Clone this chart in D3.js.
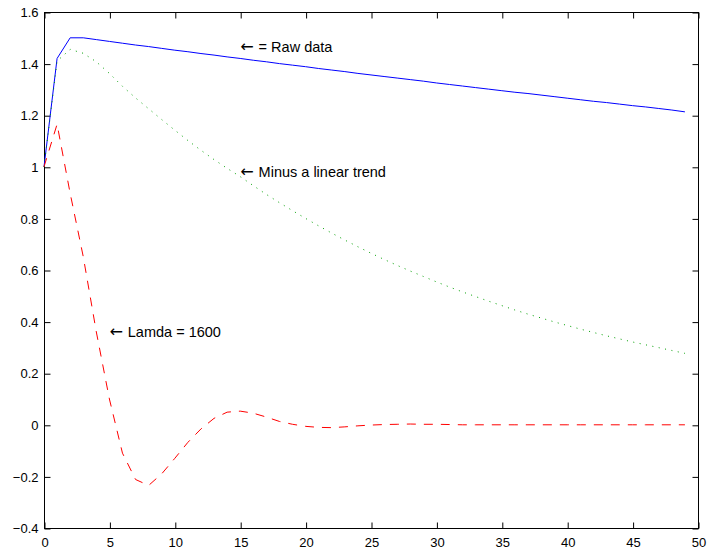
<!DOCTYPE html>
<html>
<head>
<meta charset="utf-8">
<script src="https://cdn.jsdelivr.net/npm/d3@7"></script>
<style>
  html, body { margin: 0; padding: 0; background: #fff; }
  svg { display: block; }
  .axis text { font-family: "Liberation Sans", Arial, Helvetica, sans-serif; font-size: 13px; fill: #000; }
  .axis path { display: none; }
  .axis line { stroke: #000; stroke-width: 1; }
  .note { font-family: "Liberation Sans", Arial, Helvetica, sans-serif; font-size: 14.5px; fill: #000; }
  .note .arrow { font-family: "DejaVu Sans", sans-serif; font-size: 16px; }
</style>
</head>
<body>
<script>
// Periods 0..49 of the impulse responses
const periods = d3.range(0, 50);

// Raw series
const rawData = [
  1.000, 1.420, 1.500, 1.500, 1.493, 1.486, 1.479, 1.472, 1.466, 1.459,
  1.452, 1.446, 1.439, 1.433, 1.426, 1.420, 1.413, 1.407, 1.400, 1.394,
  1.388, 1.381, 1.375, 1.369, 1.362, 1.356, 1.350, 1.344, 1.338, 1.332,
  1.325, 1.319, 1.313, 1.307, 1.301, 1.295, 1.289, 1.284, 1.278, 1.272,
  1.266, 1.260, 1.254, 1.249, 1.243, 1.237, 1.232, 1.226, 1.220, 1.213
];

// Series after removing a linear trend
const detrended = [
  1.000, 1.410, 1.455, 1.440, 1.407, 1.362, 1.312, 1.267, 1.225, 1.183,
  1.142, 1.102, 1.064, 1.028, 0.994, 0.962, 0.927, 0.893, 0.861, 0.830,
  0.800, 0.771, 0.743, 0.716, 0.690, 0.665, 0.641, 0.618, 0.596, 0.575,
  0.554, 0.534, 0.515, 0.497, 0.479, 0.462, 0.445, 0.429, 0.414, 0.399,
  0.385, 0.371, 0.358, 0.345, 0.333, 0.321, 0.310, 0.299, 0.288, 0.277
];

// HP-filtered series, lambda = 1600
const hpFiltered = [
  1.000, 1.165, 0.897, 0.652, 0.360, 0.100, -0.110, -0.212, -0.235, -0.190,
  -0.130, -0.068, -0.016, 0.025, 0.049, 0.053, 0.045, 0.030, 0.013, 0.002,
  -0.006, -0.010, -0.011, -0.008, -0.004, -0.001, 0.001, 0.002, 0.003, 0.002,
  0.002, 0.001, 0.000, 0.000, 0.000, 0.000, 0.000, 0.000, 0.000, 0.000,
  0.000, 0.000, 0.000, 0.000, 0.000, 0.000, 0.000, 0.000, 0.000, 0.000
];

// Axis ticks
const xTicks = [0, 5, 10, 15, 20, 25, 30, 35, 40, 45, 50];
const yTicks = [-0.4, -0.2, 0, 0.2, 0.4, 0.6, 0.8, 1, 1.2, 1.4, 1.6];
const yTickLabels = ["\u22120.4", "\u22120.2", "0", "0.2", "0.4", "0.6", "0.8", "1", "1.2", "1.4", "1.6"];

// Annotation texts placed in data coordinates
const notes = [
  { x: 15, y: 1.463, text: "= Raw data" },
  { x: 15, y: 0.98, text: "Minus a linear trend" },
  { x: 5, y: 0.36, text: "Lamda = 1600" }
];

const W = 708, H = 550;
const plotLeft = 44, plotRight = 698, plotTop = 12, plotBottom = 528;

const svg = d3.select("body").append("svg")
  .attr("width", W).attr("height", H);

const x = d3.scaleLinear().domain([0, 50]).range([plotLeft, plotRight]);
const y = d3.scaleLinear().domain([-0.4, 1.6]).range([plotBottom, plotTop]);

const tickLen = 6;

// Bottom axis with labels, ticks pointing inward
const gx = svg.append("g").attr("class", "axis")
  .attr("transform", `translate(0.5,${plotBottom + 0.5})`)
  .call(d3.axisBottom(x).tickValues(xTicks).tickSizeInner(-tickLen).tickSizeOuter(0)
    .tickFormat(d3.format("d")));
gx.selectAll("text").attr("dy", "0.71em").attr("y", 9);

// Top axis, ticks only
svg.append("g").attr("class", "axis")
  .attr("transform", `translate(0.5,${plotTop + 0.5})`)
  .call(d3.axisTop(x).tickValues(xTicks).tickSizeInner(-tickLen).tickSizeOuter(0).tickFormat(""));

// Left axis with labels
const gy = svg.append("g").attr("class", "axis")
  .attr("transform", `translate(${plotLeft + 0.5},0.5)`)
  .call(d3.axisLeft(y).tickValues(yTicks).tickSizeInner(-tickLen).tickSizeOuter(0)
    .tickFormat((d, i) => yTickLabels[i]));
gy.selectAll("text").attr("x", -6);

// Right axis, ticks only
svg.append("g").attr("class", "axis")
  .attr("transform", `translate(${plotRight + 0.5},0.5)`)
  .call(d3.axisRight(y).tickValues(yTicks).tickSizeInner(-tickLen).tickSizeOuter(0).tickFormat(""));

// Plot box
svg.append("rect")
  .attr("x", plotLeft + 0.5).attr("y", plotTop + 0.5)
  .attr("width", plotRight - plotLeft).attr("height", plotBottom - plotTop)
  .attr("fill", "none").attr("stroke", "#000").attr("stroke-width", 1);

const line = d3.line()
  .x((d, i) => x(periods[i]))
  .y(d => y(d));

svg.append("path").datum(rawData)
  .attr("d", line).attr("fill", "none")
  .attr("stroke", "#0000ff").attr("stroke-width", 1);

svg.append("path").datum(detrended)
  .attr("d", line).attr("fill", "none")
  .attr("stroke", "#00a000").attr("stroke-width", 1)
  .attr("stroke-dasharray", "1,5.5");

svg.append("path").datum(hpFiltered)
  .attr("d", line).attr("fill", "none")
  .attr("stroke", "#ff0000").attr("stroke-width", 1)
  .attr("stroke-dasharray", "9,8");

// Annotations: a left arrow pointing at the curve, then the label
const noteText = svg.selectAll("text.note").data(notes).join("text")
  .attr("class", "note")
  .attr("x", d => x(d.x))
  .attr("y", d => y(d.y))
  .attr("dy", "0.35em");
noteText.append("tspan").attr("class", "arrow").text("\u2190");
noteText.append("tspan").attr("dx", 5).text(d => d.text);
</script>
</body>
</html>
